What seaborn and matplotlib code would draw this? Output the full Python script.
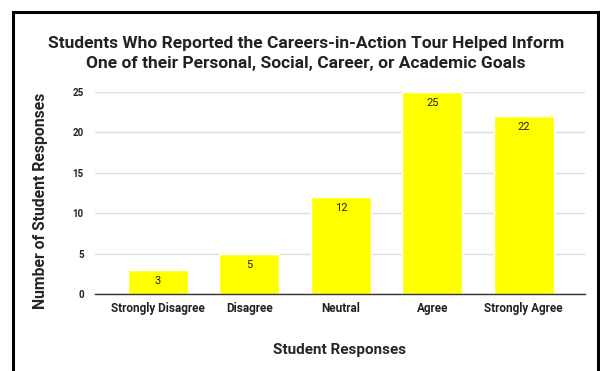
import matplotlib
matplotlib.use("Agg")
import matplotlib.pyplot as plt
import seaborn as sns
import pandas as pd
from matplotlib.patches import Rectangle

categories = ["Strongly Disagree", "Disagree", "Neutral", "Agree", "Strongly Agree"]
responses = [3, 5, 12, 25, 22]
y_ticks = [0, 5, 10, 15, 20, 25]

df = pd.DataFrame({"category": categories, "count": responses})

sns.set_theme(style="white")
plt.rcParams["font.family"] = ["Roboto", "DejaVu Sans"]

fig = plt.figure(figsize=(6.0, 3.71), dpi=100)
ax = fig.add_axes([0.1583, 0.2075, 0.8167, 0.5445])

sns.barplot(data=df, x="category", y="count", color="#ffff00", saturation=1,
            width=0.656, ax=ax, zorder=2)

for patch, val in zip(ax.patches, responses):
    cx = patch.get_x() + patch.get_width() / 2
    ax.annotate(str(val), (cx, val), xytext=(0, -4.5), textcoords="offset points",
                ha="center", va="top", fontsize=8, color="#222222", zorder=3)

ax.set_ylim(0, 25)
ax.set_xlim(-0.69, 4.67)
ax.set_yticks(y_ticks)
ax.yaxis.grid(True, color="#dddddd", linewidth=1.0, zorder=0)
ax.xaxis.grid(False)
for side in ["top", "right", "left"]:
    ax.spines[side].set_visible(False)
ax.spines["bottom"].set_color("#333333")
ax.spines["bottom"].set_linewidth(1.0)
ax.spines["bottom"].set_zorder(4)
ax.tick_params(axis="both", length=0, colors="#222222")
ax.tick_params(axis="y", labelsize=7, pad=8)
ax.tick_params(axis="x", labelsize=8.5, pad=6)
for lbl in ax.get_xticklabels() + ax.get_yticklabels():
    lbl.set_fontweight("bold")

ax.set_xlabel("Student Responses", fontsize=11, fontweight="bold", labelpad=20)
ax.set_ylabel("Number of Student Responses", fontsize=11.3, fontweight="bold",
              va="center")
ax.yaxis.set_label_coords(-0.112, 0.46)

fig.text(0.51, 0.855, "Students Who Reported the Careers-in-Action Tour Helped Inform\n"
         "One of their Personal, Social, Career, or Academic Goals",
         ha="center", va="center", fontsize=12.5, fontweight="bold",
         color="#222222", linespacing=1.42)

# outer frame
fig.patches.append(Rectangle((13 / 600, -0.05), 585 / 600, 1 - 12 / 371 + 0.05,
                             transform=fig.transFigure, fill=False,
                             edgecolor="black", linewidth=2.2))

fig.savefig("out.png", dpi=100)
